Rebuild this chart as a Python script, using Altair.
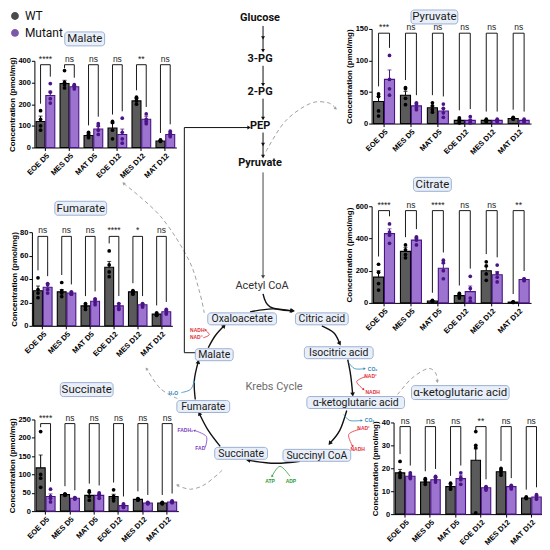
import math
import altair as alt
import pandas as pd

# ------------------------------------------------------------------ data
groups = ["EOE D5", "MES D5", "MAT D5", "EOE D12", "MES D12", "MAT D12"]
series = ["WT", "Mutant"]

malate_wt_mean = [120, 295, 55, 90, 215, 30]
malate_mut_mean = [240, 280, 85, 60, 130, 60]
malate_wt_sem = [25, 15, 8, 22, 12, 3]
malate_mut_sem = [20, 6, 12, 25, 14, 7]
malate_wt_pts = [[170, 130, 100, 80], [355, 300, 290, 275], [70, 60, 50, 45],
                 [120, 115, 80, 40], [232, 225, 215, 200], [35, 33, 30, 28]]
malate_mut_pts = [[295, 255, 225, 205], [290, 285, 280, 270], [110, 100, 80, 60],
                  [135, 70, 40, 20], [155, 130, 120, 110], [75, 65, 55, 50]]
malate_sig = ["****", "ns", "ns", "ns", "**", "ns"]

fumarate_wt_mean = [30, 29, 17, 50, 29, 10]
fumarate_mut_mean = [33, 28, 21, 17, 18, 12]
fumarate_wt_sem = [4, 2, 1.5, 5, 1, 1]
fumarate_mut_sem = [3, 1, 2, 2, 1, 1.5]
fumarate_wt_pts = [[41, 31, 28, 24], [37, 30, 28, 25], [19, 17, 16, 14],
                   [64, 52, 46, 42], [30, 29, 28, 27], [11, 10, 9, 9]]
fumarate_mut_pts = [[36, 35, 31, 28], [29, 28, 27, 27], [23, 22, 20, 18],
                    [19, 17, 15, 14], [19, 18, 17, 16], [14, 13, 11, 10]]
fumarate_sig = ["ns", "ns", "ns", "****", "*", "ns"]

succinate_wt_mean = [118, 45, 43, 40, 32, 22]
succinate_mut_mean = [40, 35, 43, 15, 22, 25]
succinate_wt_sem = [35, 3, 8, 6, 2, 2]
succinate_mut_sem = [7, 2, 4, 3, 2, 2]
succinate_wt_pts = [[217, 100, 90, 65], [47, 45, 44, 43], [55, 52, 40, 30],
                    [58, 40, 35, 28], [34, 33, 31, 30], [24, 22, 21, 20]]
succinate_mut_pts = [[60, 40, 35, 25], [37, 36, 34, 33], [50, 46, 42, 35],
                     [20, 15, 12, 10], [24, 22, 21, 20], [28, 26, 24, 23]]
succinate_sig = ["****", "ns", "ns", "ns", "ns", "ns"]

pyruvate_wt_mean = [35, 45, 25, 5, 5, 8]
pyruvate_mut_mean = [70, 28, 20, 5, 5, 5]
pyruvate_wt_sem = [8, 6, 3, 2, 1, 1]
pyruvate_mut_sem = [15, 4, 4, 2, 1, 1]
pyruvate_wt_pts = [[47, 43, 20, 12], [57, 55, 40, 30], [33, 28, 22, 18],
                   [9, 6, 3, 1], [7, 5, 4, 3], [10, 9, 8, 7]]
pyruvate_mut_pts = [[108, 70, 55, 45], [33, 30, 25, 22], [31, 24, 17, 10],
                    [11, 5, 2, 1], [7, 5, 4, 3], [7, 5, 4, 3]]
pyruvate_sig = ["***", "ns", "ns", "ns", "ns", "ns"]

citrate_wt_mean = [160, 320, 12, 45, 200, 5]
citrate_mut_mean = [430, 390, 215, 70, 175, 145]
citrate_wt_sem = [40, 25, 2, 8, 25, 1]
citrate_mut_sem = [30, 15, 30, 35, 20, 5]
citrate_wt_pts = [[240, 190, 120, 80], [360, 330, 300, 280], [15, 13, 11, 9],
                  [60, 50, 40, 30], [255, 230, 180, 140], [7, 5, 4, 3]]
citrate_mut_pts = [[490, 440, 420, 370], [410, 400, 390, 360], [265, 250, 200, 150],
                   [165, 90, 30, 10], [235, 185, 160, 130], [150, 148, 143, 138]]
citrate_sig = ["****", "ns", "****", "ns", "ns", "**"]

akg_wt_mean = [18, 14, 12, 23.5, 18.5, 7]
akg_mut_mean = [16.5, 15, 15.5, 11.5, 12, 7.5]
akg_wt_sem = [1.5, 1, 1, 5, 1, 0.3]
akg_mut_sem = [1, 1, 1.5, 0.5, 0.5, 0.5]
akg_wt_pts = [[23, 18, 17, 16], [15.5, 15, 14, 13], [13.5, 12, 11, 11],
              [36, 30, 29, 0.5], [20, 19, 18, 17], [7.5, 7, 7, 6.8]]
akg_mut_pts = [[18, 17, 16, 15.5], [16.5, 16, 15, 14], [18, 16, 15, 13],
               [12, 11.5, 11, 10.5], [12.5, 12, 11.5, 11], [8.5, 8, 7, 6.5]]
akg_sig = ["ns", "ns", "ns", "**", "ns", "ns"]

# pathway labels
glyco_labels = ["Glucose", "3-PG", "2-PG", "PEP", "Pyruvate"]
panel_titles = ["Malate", "Fumarate", "Succinate", "Pyruvate", "Citrate", "α-ketoglutaric acid"]
krebs_nodes = ["Oxaloacetate", "Citric acid", "Isocitric acid", "α-ketoglutaric acid",
               "Succinyl CoA", "Succinate", "Fumarate", "Malate"]

# ------------------------------------------------------------------ layout
W, H, M = 534, 534, 8
FONT = "Liberation Sans"
DFONT = "Roboto"


def px(v):
    return v - M


BAR_FILL = {"WT": "#5a5a5a", "Mutant": "#9c74d0"}
BAR_STROKE = {"WT": "#000000", "Mutant": "#4a1486"}
DOT = alt.Scale(domain=series, range=["#000000", "#4a1486"])
LEG = alt.Legend(orient="none", legendX=0, legendY=0, title=None, labelFontSize=12,
                 labelFont=DFONT, symbolType="circle", symbolSize=40, rowPadding=3,
                 labelOffset=4, padding=0, labelColor="#111")


def make_panel(wt_mean, mut_mean, wt_sem, mut_sem, wt_pts, mut_pts, sig,
               ymax, ystep, x0, x1, yt, yb):
    means = {"WT": wt_mean, "Mutant": mut_mean}
    sems = {"WT": wt_sem, "Mutant": mut_sem}
    pts = {"WT": wt_pts, "Mutant": mut_pts}
    top = ymax * 0.955
    bar_rows, pt_rows, br_rows, sig_rows = [], [], [], []
    for i, g in enumerate(groups):
        legs = {}
        for s in series:
            m, e = means[s][i], sems[s][i]
            bar_rows.append({"group": g, "series": s, "mean": m, "hi": m + e})
            for r, v in enumerate(pts[s][i]):
                pt_rows.append({"group": g, "series": s, "value": v, "rep": r % 2})
            hi = max(max(pts[s][i]), m + e)
            legs[s] = min(hi + 0.08 * ymax, top - 0.04 * ymax)
        br_rows += [
            {"group": g, "series": "WT", "yv": legs["WT"], "ord": 0},
            {"group": g, "series": "WT", "yv": top, "ord": 1},
            {"group": g, "series": "Mutant", "yv": top, "ord": 2},
            {"group": g, "series": "Mutant", "yv": legs["Mutant"], "ord": 3},
        ]
        sig_rows.append({"group": g, "label": sig[i], "top": top})

    xs = alt.Scale(domain=groups, range=[px(x0), px(x1)], paddingInner=0.22, paddingOuter=0.07)
    xos = alt.Scale(domain=series, paddingInner=0.08, paddingOuter=0)
    ys = alt.Scale(domain=[0, ymax], range=[px(yb), px(yt)], nice=False, zero=True)

    xaxis = alt.Axis(orient="bottom", offset=px(yb) - H, labelAngle=-45, labelFont=FONT,
                     labelFontSize=7.5, labelFontWeight="bold", labelColor="black",
                     domainColor="black", tickColor="black", tickSize=3, labelPadding=1,
                     grid=False, title=None)
    yaxis = alt.Axis(orient="left", offset=-px(x0), values=list(range(0, ymax + 1, ystep)),
                     labelFont=FONT, labelFontSize=7.5, labelFontWeight="bold",
                     labelColor="black", domainColor="black", tickColor="black",
                     tickSize=3, labelPadding=1, grid=False,
                     title="Concentration (pmol/mg)", titleFont=FONT, titleFontSize=8,
                     titleFontWeight="bold", titleColor="black", titlePadding=1.5)

    bdf = pd.DataFrame(bar_rows)
    pdf = pd.DataFrame(pt_rows)

    def X():
        return alt.X("group:N", scale=xs, axis=xaxis)

    def Y(f):
        return alt.Y(f + ":Q", scale=ys, axis=yaxis)

    XO = alt.XOffset("series:N", scale=xos)

    layers = []
    for s in series:
        layers.append(alt.Chart(bdf[bdf.series == s]).mark_bar(
            strokeWidth=1.1, fill=BAR_FILL[s], stroke=BAR_STROKE[s]).encode(
            x=X(), xOffset=XO, y=Y("mean")))
    layers.append(alt.Chart(bdf).mark_rule(strokeWidth=1).encode(
        x=X(), xOffset=XO, y=Y("mean"), y2="hi:Q",
        color=alt.Color("series:N", scale=DOT, legend=LEG)))
    layers.append(alt.Chart(bdf).mark_tick(size=4, thickness=1).encode(
        x=X(), xOffset=XO, y=Y("hi"),
        color=alt.Color("series:N", scale=DOT, legend=LEG)))
    for rep, dx in [(0, -2), (1, 2)]:
        layers.append(alt.Chart(pdf[pdf.rep == rep]).mark_circle(size=14, opacity=1, dx=dx).encode(
            x=X(), xOffset=XO, y=Y("value"),
            color=alt.Color("series:N", scale=DOT, legend=LEG)))
    layers.append(alt.Chart(pd.DataFrame(br_rows)).mark_line(color="black", strokeWidth=0.9).encode(
        x=X(), xOffset=XO, y=Y("yv"), detail="group:N", order="ord:Q"))
    layers.append(alt.Chart(pd.DataFrame(sig_rows)).mark_text(
        fontSize=8.5, font=FONT, baseline="alphabetic", dy=-3, color="#222").encode(
        x=X(), y=Y("top"), text="label:N"))
    return alt.layer(*layers)


panels = [
    make_panel(malate_wt_mean, malate_mut_mean, malate_wt_sem, malate_mut_sem,
               malate_wt_pts, malate_mut_pts, malate_sig, 400, 100, 33.5, 176, 59, 146),
    make_panel(fumarate_wt_mean, fumarate_mut_mean, fumarate_wt_sem, fumarate_mut_sem,
               fumarate_wt_pts, fumarate_mut_pts, fumarate_sig, 80, 20, 31, 172, 231, 325),
    make_panel(succinate_wt_mean, succinate_mut_mean, succinate_wt_sem, succinate_mut_sem,
               succinate_wt_pts, succinate_mut_pts, succinate_sig, 250, 50, 33.5, 178, 419, 511),
    make_panel(pyruvate_wt_mean, pyruvate_mut_mean, pyruvate_wt_sem, pyruvate_mut_sem,
               pyruvate_wt_pts, pyruvate_mut_pts, pyruvate_sig, 150, 50, 372, 532, 27, 122),
    make_panel(citrate_wt_mean, citrate_mut_mean, citrate_wt_sem, citrate_mut_sem,
               citrate_wt_pts, citrate_mut_pts, citrate_sig, 600, 200, 372, 532, 205, 302),
    make_panel(akg_wt_mean, akg_mut_mean, akg_wt_sem, akg_mut_sem,
               akg_wt_pts, akg_mut_pts, akg_sig, 40, 10, 394, 544, 422, 514),
]

# ------------------------------------------------------------------ pathway diagram
DX = alt.Scale(domain=[M, M + W], range=[0, W], nice=False, zero=False)
DY = alt.Scale(domain=[M, M + H], range=[0, H], nice=False, zero=False)


def dx_(f="x"):
    return alt.X(f + ":Q", scale=DX, axis=None)


def dy_(f="y"):
    return alt.Y(f + ":Q", scale=DY, axis=None)


# boxed labels: (cx, cy, w, h, fontsize)
box_pos = [
    (84, 37, 40, 14, 11.5), (80, 207, 52, 14, 11.5), (86, 389, 53, 14, 11.5),
    (435, 15, 47, 14, 11.5), (433, 183, 38, 14, 11.5), (461, 392, 98, 14, 11.5),
]
node_pos = [
    (242, 318, 69, 12, 10.5), (322, 318, 53, 12, 10.5), (339, 352, 69, 12, 10.5),
    (356, 402, 98, 12, 10.5), (317, 455, 68, 12, 10.5), (241, 453, 53, 12, 10.5),
    (203, 406, 53, 12, 10.5), (214, 354, 38, 12, 10.5),
]
box_rows = []
for lab, (cx, cy, w, h, fs) in zip(panel_titles + krebs_nodes, box_pos + node_pos):
    box_rows.append({"text": lab, "x": cx, "y": cy + 0.5, "x1": cx - w / 2, "x2": cx + w / 2,
                     "y1": cy - h / 2, "y2": cy + h / 2, "fs": fs})
boxdf = pd.DataFrame(box_rows)

glyco_y = [16, 57, 90, 124, 162]
text_bold = pd.DataFrame({"text": glyco_labels, "x": [260] * 5, "y": glyco_y})
text_plain = pd.DataFrame({"text": ["Acetyl CoA", "Krebs Cycle"], "x": [262, 274],
                           "y": [285, 386], "col": ["#333333", "#6d6d6d"]})

RED, BLUE, PURP, GREEN = "#e0303a", "#2f86b8", "#7a3fc0", "#2e9a3a"
cof_text = pd.DataFrame({
    "text": ["NADH", "NAD⁺", "H₂O", "FADH₂", "FAD", "ATP", "ADP",
             "CO₂", "NAD⁺", "NADH", "CO₂", "NAD⁺", "NADH"],
    "x": [197, 196, 173, 185, 200, 270, 291, 373, 371, 373, 370, 364, 358],
    "y": [329, 336, 392, 430, 448, 481, 481, 368, 375, 391, 420, 428, 449],
    "col": [RED, RED, BLUE, PURP, PURP, GREEN, GREEN, BLUE, RED, RED, BLUE, RED, RED],
})

# arrows: (points, colour, head at end, head at start)
straight = [
    ([(263, 24), (263, 49)], "#111", True, False),
    ([(263, 64), (263, 83)], "#111", True, False),
    ([(263, 97), (263, 117)], "#111", True, False),
    ([(263, 131), (263, 155)], "#111", True, False),
    ([(263, 171), (263, 276)], "#444", True, False),
    ([(196, 352), (184, 352), (184, 126), (249, 126)], "#111", True, False),
]
extra_heads = [(263, 36, 180, "#111"), (263, 143, 180, "#111")]
curves = [
    ([(263, 293), (270, 306), (292, 310)], "#111", True, False),
    ([(250, 311), (272, 308), (293, 310)], "#111", True, False),
    ([(322, 325), (334, 332), (340, 343)], "#111", True, False),
    ([(348, 359), (351, 375), (353, 394)], "#111", True, False),
    ([(347, 410), (340, 430), (330, 443)], "#111", True, False),
    ([(300, 461), (275, 463), (248, 460)], "#111", True, False),
    ([(220, 446), (208, 430), (199, 413)], "#111", True, False),
    ([(195, 399), (194, 380), (198, 361)], "#111", True, False),
    ([(208, 347), (215, 335), (224, 325)], "#111", True, False),
]
cof_curves = [
    ([(203, 337), (209, 334), (205, 329)], RED, True, False),
    ([(181, 392), (190, 389), (194, 381)], BLUE, True, False),
    ([(205, 447), (206, 436), (194, 430)], PURP, True, False),
    ([(290, 476), (280, 466), (272, 476)], GREEN, True, False),
    ([(349, 362), (355, 368), (365, 368)], BLUE, True, False),
    ([(366, 376), (357, 381), (364, 389)], RED, True, False),
    ([(344, 414), (350, 420), (362, 420)], BLUE, True, False),
    ([(360, 429), (349, 434), (353, 446)], RED, True, False),
]
dashed = [
    ([(266, 150), (285, 120), (310, 102), (328, 101), (336, 107)], "#a0a0a0", True, False),
    ([(123, 182), (160, 215), (188, 258), (199, 290), (204, 312)], "#a0a0a0", False, True),
    ([(177, 398), (160, 388), (146, 368)], "#a0a0a0", True, False),
    ([(222, 470), (205, 484), (190, 489), (177, 485)], "#a0a0a0", True, False),
    ([(398, 394), (412, 378), (428, 368), (436, 372), (438, 381)], "#a0a0a0", True, False),
]


def ang(p, q):
    return (math.degrees(math.atan2(q[0] - p[0], -(q[1] - p[1]))) + 360) % 360


def build(arrs, start_id, hsize):
    rows, heads = [], []
    for k, (pts, col, he, hs) in enumerate(arrs):
        for o, (x, y) in enumerate(pts):
            rows.append({"seg": start_id + k, "ord": o, "x": x, "y": y, "col": col})
        if he:
            heads.append({"x": pts[-1][0], "y": pts[-1][1], "ang": ang(pts[-2], pts[-1]),
                          "col": col, "sz": hsize})
        if hs:
            heads.append({"x": pts[0][0], "y": pts[0][1], "ang": ang(pts[1], pts[0]),
                          "col": col, "sz": hsize})
    return pd.DataFrame(rows), heads


s_df, s_heads = build(straight, 0, 16)
c_df, c_heads = build(curves, 100, 22)
f_df, f_heads = build(cof_curves, 200, 7)
d_df, d_heads = build(dashed, 300, 12)
heads = s_heads + c_heads + f_heads + d_heads
heads += [{"x": x, "y": y, "ang": a, "col": c, "sz": 16} for x, y, a, c in extra_heads]
head_df = pd.DataFrame(heads)


def line_layer(df, width, interp, dash=None):
    kw = {"strokeWidth": width, "interpolate": interp}
    if dash:
        kw["strokeDash"] = dash
    return alt.Chart(df).mark_line(**kw).encode(
        x=dx_(), y=dy_(), detail="seg:N", order="ord:Q",
        color=alt.Color("col:N", scale=None))


diagram = alt.layer(
    line_layer(d_df, 1, "cardinal", [4, 3]),
    line_layer(s_df, 1, "linear"),
    line_layer(c_df, 1.4, "cardinal"),
    line_layer(f_df, 0.8, "cardinal"),
    alt.Chart(head_df).mark_point(shape="triangle-up", filled=True, opacity=1, strokeWidth=0).encode(
        x=dx_(), y=dy_(), angle=alt.Angle("ang:Q", scale=None),
        color=alt.Color("col:N", scale=None), size=alt.Size("sz:Q", scale=None)),
    alt.Chart(boxdf).mark_rect(fill="#e9eff9", stroke="#93a9cf", strokeWidth=0.9,
                               cornerRadius=3).encode(
        x=dx_("x1"), x2="x2:Q", y=dy_("y1"), y2="y2:Q"),
    alt.Chart(boxdf).mark_text(font=DFONT, color="#1a1a1a", baseline="middle").encode(
        x=dx_(), y=dy_(), text="text:N", size=alt.Size("fs:Q", scale=None)),
    alt.Chart(text_bold).mark_text(font=DFONT, fontWeight="bold", fontSize=11, color="#111",
                                   baseline="middle").encode(x=dx_(), y=dy_(), text="text:N"),
    alt.Chart(text_plain).mark_text(font=DFONT, fontSize=11, baseline="middle").encode(
        x=dx_(), y=dy_(), text="text:N", color=alt.Color("col:N", scale=None)),
    alt.Chart(cof_text).mark_text(font=FONT, fontSize=5, fontWeight="bold", baseline="middle").encode(
        x=dx_(), y=dy_(), text="text:N", color=alt.Color("col:N", scale=None)),
)

chart = alt.layer(*panels, diagram).resolve_scale(
    x="independent", y="independent", xOffset="independent"
).resolve_axis(x="independent", y="independent").properties(
    width=W, height=H, padding=0, background="white"
).configure_view(stroke=None)

chart.save("out.html", embed_options={"renderer": "svg", "actions": False})
